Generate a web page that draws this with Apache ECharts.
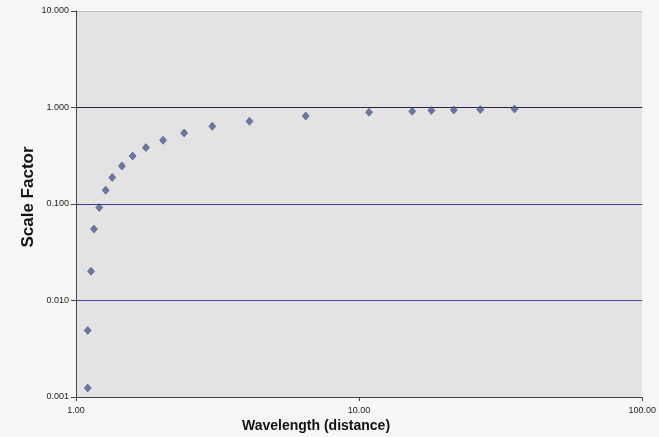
<!DOCTYPE html>
<html><head><meta charset="utf-8">
<script src="https://cdn.jsdelivr.net/npm/echarts@6/dist/echarts.min.js"></script>
<style>html,body{margin:0;padding:0;background:#f7f7f7;}#c{width:659px;height:437px;}</style>
</head><body><div id="c"></div>
<script>
const wavelength = [1.10, 1.10, 1.13, 1.157, 1.208, 1.273, 1.343, 1.453, 1.585, 1.766, 2.03, 2.41, 3.03, 4.10, 6.48, 10.84, 15.4, 18.0, 21.6, 26.8, 35.4];
const scaleFactor = [0.00124, 0.0049, 0.0201, 0.055, 0.092, 0.139, 0.188, 0.248, 0.314, 0.384, 0.457, 0.544, 0.638, 0.719, 0.817, 0.892, 0.913, 0.929, 0.942, 0.951, 0.965];
const xTitle = 'Wavelength (distance)';
const yTitle = 'Scale Factor';

const chart = echarts.init(document.getElementById('c'));
chart.setOption({
  backgroundColor: '#f7f7f7',
  animation: false,
  grid: { left: 76, right: 16, top: 11, bottom: 40, show: true, backgroundColor: '#e3e3e3', borderWidth: 0 },
  xAxis: {
    type: 'log', logBase: 10, min: 1, max: 100,
    axisLine: { show: true, lineStyle: { color: '#444', width: 1 } },
    axisTick: { show: true, length: 4, lineStyle: { color: '#444' } },
    axisLabel: { formatter: v => v.toFixed(2), fontSize: 9, color: '#222', margin: 9, fontFamily: 'Liberation Sans' },
    splitLine: { show: false }
  },
  yAxis: {
    type: 'log', logBase: 10, min: 0.001, max: 10,
    axisLine: { show: true, lineStyle: { color: '#444', width: 1 } },
    axisTick: { show: true, length: 5, lineStyle: { color: '#444' } },
    axisLabel: { formatter: v => Number(v).toFixed(3), fontSize: 9, color: '#222', margin: 7, fontFamily: 'Liberation Sans' },
    splitLine: { show: true, lineStyle: { color: ['#555', '#4e3fa0', '#463a98', '#2a2440', '#c0c0c0'], width: 1 } }
  },
  graphic: [{
    type: 'text', left: 242, top: 419,
    style: { text: xTitle, font: 'bold 14px "Liberation Sans"', fill: '#111' }
  }, {
    type: 'text', x: 28, y: 197, rotation: Math.PI / 2,
    style: { text: yTitle, font: 'bold 17px "Liberation Sans"', fill: '#111', align: 'center', verticalAlign: 'middle' }
  }],
  series: [{
    type: 'scatter',
    data: wavelength.map((x, i) => [x, scaleFactor[i]]),
    symbol: 'diamond', symbolSize: [7, 8],
    itemStyle: { color: '#4c5c96', borderColor: '#2e3a6e', borderWidth: 0.6 }
  }]
});
</script>
</body></html>
